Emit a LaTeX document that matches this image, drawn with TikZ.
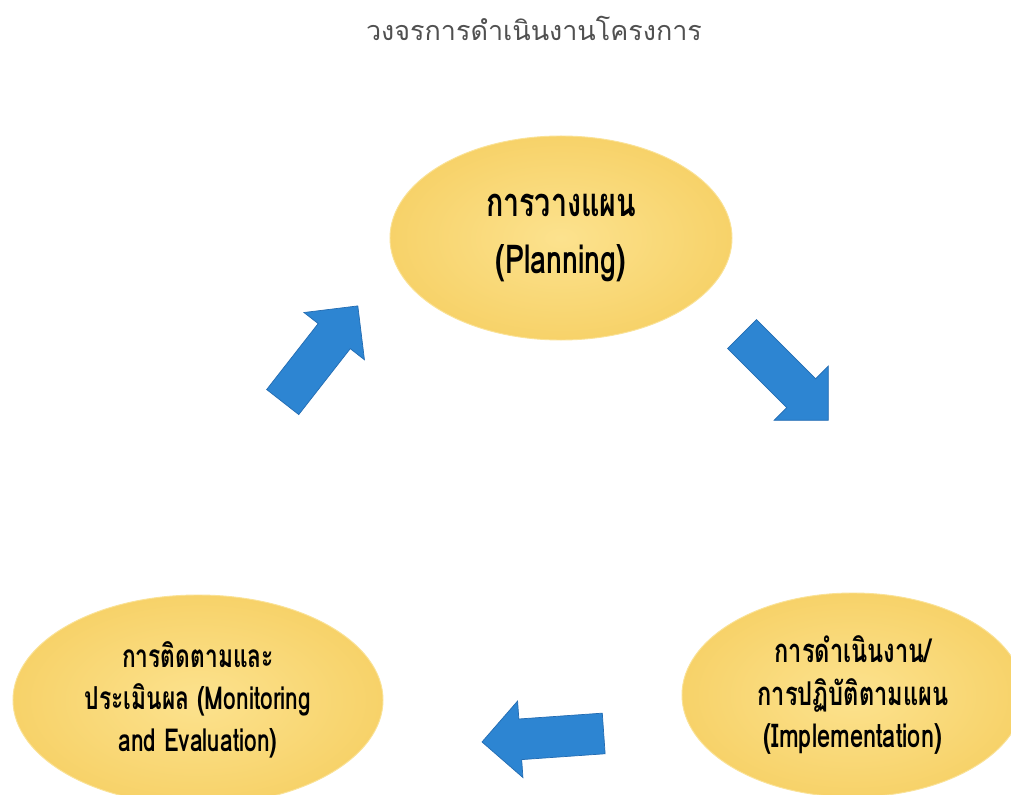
\documentclass[tikz,border=0pt]{standalone}
\usepackage{fontspec}
\usetikzlibrary{shapes.geometric,shapes.arrows}
\newfontfamily\thaifont[Script=Thai]{Loma}
\newfontfamily\thaibold[Script=Thai,FakeStretch=0.72]{Loma}
\definecolor{stagegold}{RGB}{247,210,105}
\definecolor{stagelight}{RGB}{252,226,142}
\definecolor{stagerim}{RGB}{250,226,150}
\definecolor{arrowblue}{RGB}{45,133,210}
\definecolor{arrowedge}{RGB}{35,108,178}
\definecolor{titlegray}{RGB}{80,80,80}

\begin{document}
\begin{tikzpicture}[x=0.03cm,y=-0.03cm,
  stage/.style={ellipse, draw=stagerim, line width=0.8pt, inner color=stagelight, outer color=stagegold, inner sep=0pt, align=center},
  flow/.style={single arrow, single arrow head extend=0.54cm, minimum height=3.66cm, inner xsep=0pt, inner ysep=0.6cm, fill=arrowblue, draw=arrowedge, line width=0.6pt}]
\useasboundingbox (0,0) rectangle (1011,795);
\clip (0,0) rectangle (1011,795);
\fill[white] (0,0) rectangle (1011,795);
% title
\node[font=\thaifont\fontsize{23}{26}\selectfont, text=titlegray] (title) at (534,28) {วงจรการดำเนินงานโครงการ};
% stages
\node[stage, minimum width=10.26cm, minimum height=6.12cm, font=\thaibold\bfseries\fontsize{34}{49}\selectfont] (plan) at (561,238)
  {การวางแผน\\(Planning)};
\node[stage, minimum width=10.26cm, minimum height=6.12cm, font=\thaibold\bfseries\fontsize{28}{36}\selectfont] (impl) at (853,695)
  {การดำเนินงาน/\\การปฏิบัติตามแผน\\(Implementation)};
\node[stage, minimum width=11.1cm, minimum height=6.3cm, font=\thaibold\bfseries\fontsize{27}{36}\selectfont] (monitor) at (198,700)
  {การติดตามและ\\ประเมินผล (Monitoring\\and Evaluation)};
% arrows
\node[flow, rotate=52] (toplan) at (314,362) {};
\node[flow, rotate=-45] (toimpl) at (778,370) {};
\node[flow, rotate=184] (tomonitor) at (553,737) {};
\end{tikzpicture}
\end{document}
